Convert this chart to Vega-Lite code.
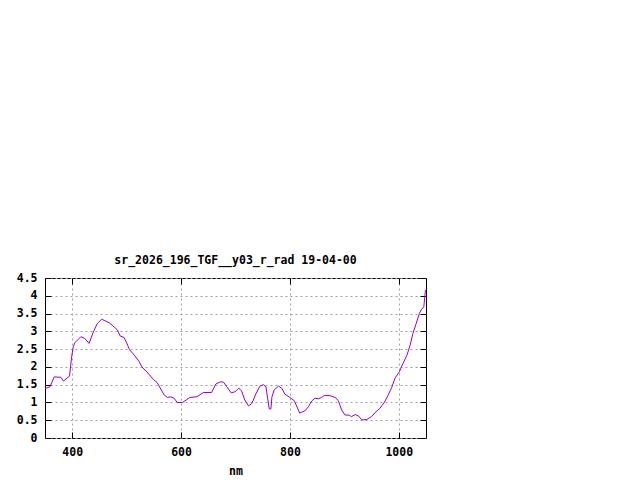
{
  "$schema": "https://vega.github.io/schema/vega-lite/v6.json",
  "autosize": "none",
  "padding": {"left": 45, "top": 278, "right": 214, "bottom": 42},
  "width": 381,
  "height": 160,
  "background": "white",
  "title": {
    "text": "sr_2026_196_TGF__y03_r_rad 19-04-00",
    "font": "DejaVu Sans Mono",
    "fontSize": 11.5,
    "fontWeight": "bold",
    "color": "black",
    "offset": 6
  },
  "data": {
    "values": [
      {"nm": 350, "rad": 1.40}, {"nm": 352, "rad": 1.40}, {"nm": 359, "rad": 1.44},
      {"nm": 367, "rad": 1.72}, {"nm": 374, "rad": 1.71}, {"nm": 379, "rad": 1.71},
      {"nm": 384, "rad": 1.60}, {"nm": 395, "rad": 1.74}, {"nm": 399, "rad": 2.29},
      {"nm": 402, "rad": 2.57}, {"nm": 405, "rad": 2.68}, {"nm": 416, "rad": 2.85},
      {"nm": 423, "rad": 2.80}, {"nm": 431, "rad": 2.66}, {"nm": 439, "rad": 2.99},
      {"nm": 446, "rad": 3.22}, {"nm": 454, "rad": 3.34}, {"nm": 460, "rad": 3.30},
      {"nm": 468, "rad": 3.24}, {"nm": 475, "rad": 3.15}, {"nm": 483, "rad": 3.04},
      {"nm": 488, "rad": 2.87}, {"nm": 495, "rad": 2.83}, {"nm": 500, "rad": 2.68},
      {"nm": 505, "rad": 2.49}, {"nm": 514, "rad": 2.33}, {"nm": 523, "rad": 2.15},
      {"nm": 528, "rad": 2.00}, {"nm": 537, "rad": 1.86}, {"nm": 549, "rad": 1.65},
      {"nm": 556, "rad": 1.56}, {"nm": 569, "rad": 1.21}, {"nm": 575, "rad": 1.14},
      {"nm": 581, "rad": 1.16}, {"nm": 587, "rad": 1.12}, {"nm": 593, "rad": 1.00},
      {"nm": 603, "rad": 1.00}, {"nm": 616, "rad": 1.14}, {"nm": 629, "rad": 1.16},
      {"nm": 641, "rad": 1.28}, {"nm": 656, "rad": 1.28}, {"nm": 664, "rad": 1.52},
      {"nm": 672, "rad": 1.58}, {"nm": 678, "rad": 1.57}, {"nm": 684, "rad": 1.44},
      {"nm": 692, "rad": 1.27}, {"nm": 699, "rad": 1.30}, {"nm": 706, "rad": 1.40},
      {"nm": 711, "rad": 1.33}, {"nm": 717, "rad": 1.07}, {"nm": 724, "rad": 0.90},
      {"nm": 730, "rad": 0.97}, {"nm": 738, "rad": 1.26}, {"nm": 745, "rad": 1.46},
      {"nm": 751, "rad": 1.50}, {"nm": 756, "rad": 1.44}, {"nm": 759, "rad": 1.12},
      {"nm": 762, "rad": 0.82}, {"nm": 765, "rad": 0.82}, {"nm": 767, "rad": 1.16},
      {"nm": 771, "rad": 1.35}, {"nm": 779, "rad": 1.46}, {"nm": 785, "rad": 1.40},
      {"nm": 791, "rad": 1.23}, {"nm": 800, "rad": 1.14}, {"nm": 808, "rad": 1.05},
      {"nm": 818, "rad": 0.70}, {"nm": 828, "rad": 0.77}, {"nm": 834, "rad": 0.88},
      {"nm": 840, "rad": 1.04}, {"nm": 846, "rad": 1.12}, {"nm": 852, "rad": 1.10},
      {"nm": 858, "rad": 1.14}, {"nm": 864, "rad": 1.20}, {"nm": 874, "rad": 1.19},
      {"nm": 883, "rad": 1.14}, {"nm": 889, "rad": 1.05}, {"nm": 895, "rad": 0.79},
      {"nm": 901, "rad": 0.65}, {"nm": 909, "rad": 0.64}, {"nm": 913, "rad": 0.60},
      {"nm": 920, "rad": 0.66}, {"nm": 926, "rad": 0.62}, {"nm": 932, "rad": 0.51},
      {"nm": 941, "rad": 0.52}, {"nm": 950, "rad": 0.60}, {"nm": 956, "rad": 0.71},
      {"nm": 965, "rad": 0.83}, {"nm": 973, "rad": 0.99}, {"nm": 979, "rad": 1.16},
      {"nm": 987, "rad": 1.42}, {"nm": 993, "rad": 1.68}, {"nm": 1001, "rad": 1.86},
      {"nm": 1008, "rad": 2.10}, {"nm": 1015, "rad": 2.33}, {"nm": 1021, "rad": 2.62},
      {"nm": 1026, "rad": 2.94}, {"nm": 1032, "rad": 3.22}, {"nm": 1038, "rad": 3.51},
      {"nm": 1042, "rad": 3.62}, {"nm": 1046, "rad": 3.69}, {"nm": 1049, "rad": 4.16}
    ]
  },
  "layer": [
    {
      "mark": {"type": "line", "color": "#9400d3", "strokeWidth": 1, "clip": true},
      "encoding": {
        "x": {
          "field": "nm",
          "type": "quantitative",
          "scale": {"domain": [350, 1050], "nice": false, "zero": false},
          "axis": {
            "title": "nm",
            "values": [400, 600, 800, 1000],
            "format": "d",
            "tickSize": -6,
            "labelPadding": 14,
            "titlePadding": 8
          }
        },
        "y": {
          "field": "rad",
          "type": "quantitative",
          "scale": {"domain": [0, 4.5], "nice": false},
          "axis": {
            "title": null,
            "values": [0, 0.5, 1, 1.5, 2, 2.5, 3, 3.5, 4, 4.5],
            "format": "~g",
            "tickSize": -6,
            "labelPadding": 14
          }
        }
      }
    },
    {
      "mark": {"type": "line", "opacity": 0},
      "encoding": {
        "x": {
          "field": "nm",
          "type": "quantitative",
          "scale": {"domain": [350, 1050], "nice": false, "zero": false},
          "axis": {"orient": "top", "title": null, "labels": false, "grid": false, "values": [400, 600, 800, 1000], "tickSize": -6}
        },
        "y": {
          "field": "rad",
          "type": "quantitative",
          "scale": {"domain": [0, 4.5], "nice": false},
          "axis": {"orient": "right", "title": null, "labels": false, "grid": false, "values": [0, 0.5, 1, 1.5, 2, 2.5, 3, 3.5, 4, 4.5], "tickSize": -6}
        }
      }
    }
  ],
  "resolve": {"scale": {"x": "independent", "y": "independent"}},
  "config": {
    "view": {"stroke": "black", "strokeWidth": 1},
    "axis": {
      "domain": false,
      "grid": true,
      "gridColor": "#a0a0a0",
      "gridDash": [2, 3],
      "gridOpacity": 1,
      "tickColor": "black",
      "tickWidth": 1,
      "labelFont": "DejaVu Sans Mono",
      "labelFontSize": 11.5,
      "labelFontWeight": "bold",
      "labelColor": "black",
      "titleFont": "DejaVu Sans Mono",
      "titleFontSize": 11.5,
      "titleFontWeight": "bold",
      "titleColor": "black"
    }
  }
}
